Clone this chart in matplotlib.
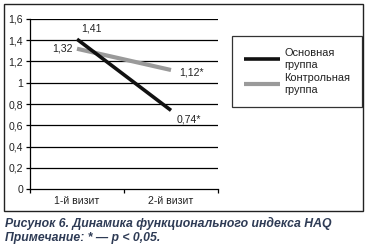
import matplotlib
matplotlib.use("Agg")
import matplotlib.pyplot as plt
from matplotlib.patches import Rectangle

categories = ["1-й визит", "2-й визит"]
main_group = [1.41, 0.74]
control_group = [1.32, 1.12]
main_labels = ["1,41", "0,74*"]
control_labels = ["1,32", "1,12*"]
yticks = [0, 0.2, 0.4, 0.6, 0.8, 1.0, 1.2, 1.4, 1.6]
ytick_labels = ["0", "0,2", "0,4", "0,6", "0,8", "1", "1,2", "1,4", "1,6"]

plt.rcParams['font.family'] = ['Liberation Sans', 'DejaVu Sans']

fig = plt.figure(figsize=(3.7, 2.49), dpi=100)
fig.patch.set_facecolor('white')

# outer frame
fig.patches.append(Rectangle((4/370, 1-211/249), (363-4)/370, (211-4)/249,
                             transform=fig.transFigure, fill=False,
                             edgecolor='#222222', linewidth=1.0))

ax = fig.add_axes([30/370, 1-189/249, 188/370, 170/249])
x = [0.5, 1.5]
ax.set_xlim(0, 2)
ax.set_ylim(0, 1.6)
for yv in yticks[1:]:
    ax.axhline(yv, color='black', linewidth=0.9, zorder=1)

l1, = ax.plot(x, main_group, color='#111111', linewidth=2.6, solid_capstyle='butt', zorder=3)
l2, = ax.plot(x, control_group, color='#9a9a9a', linewidth=3.0, solid_capstyle='butt', zorder=2)

fs = 7.6
ax.annotate(main_labels[0], (x[0], main_group[0]), xytext=(3, 4), textcoords='offset points',
            fontsize=fs, color='#222222', ha='left', va='bottom')
ax.annotate(main_labels[1], (x[1], main_group[1]), xytext=(4, -3), textcoords='offset points',
            fontsize=fs, color='#222222', ha='left', va='top')
ax.annotate(control_labels[0], (x[0], control_group[0]), xytext=(-3, 0), textcoords='offset points',
            fontsize=fs, color='#222222', ha='right', va='center')
ax.annotate(control_labels[1], (x[1], control_group[1]), xytext=(6, -2), textcoords='offset points',
            fontsize=fs, color='#222222', ha='left', va='center')

ax.set_yticks(yticks)
ax.set_yticklabels(ytick_labels, fontsize=fs, color='#222222')
ax.set_xticks([0, 1, 2])
ax.set_xticklabels([])
ax.set_xticks(x, minor=True)
ax.set_xticklabels(categories, minor=True, fontsize=fs, color='#222222')
ax.tick_params(axis='x', which='minor', length=0, pad=5)
ax.tick_params(axis='x', which='major', length=3, width=0.9, direction='out', color='black')
ax.tick_params(axis='y', length=3, width=0.9, direction='out', pad=2, color='black')
for s in ['top', 'right']:
    ax.spines[s].set_visible(False)
ax.spines['left'].set_linewidth(0.9)
ax.spines['bottom'].set_linewidth(0.9)
ax.set_facecolor('none')

leg = fig.legend([l1, l2], ["Основная\nгруппа", "Контрольная\nгруппа"],
                 loc='upper left', bbox_to_anchor=(232/370, 1-36/249),
                 fontsize=7.9, frameon=True, fancybox=False, edgecolor='black',
                 handlelength=3.3, handletextpad=0.35, borderpad=1.1, labelspacing=0.3,
                 borderaxespad=0)
leg.get_frame().set_linewidth(0.9)
for t in leg.get_texts():
    t.set_color('#222222')
    t.set_linespacing(1.2)

cap_color = '#2e3b55'
fig.text(5/370, 1-223/249, "Рисунок 6. Динамика функционального индекса HAQ",
         fontsize=8.8, fontweight='bold', fontstyle='italic', color=cap_color, va='center')
fig.text(5/370, 1-238/249, "Примечание: * — p < 0,05.",
         fontsize=8.8, fontweight='bold', fontstyle='italic', color=cap_color, va='center')

fig.savefig('out.png', dpi=100)
